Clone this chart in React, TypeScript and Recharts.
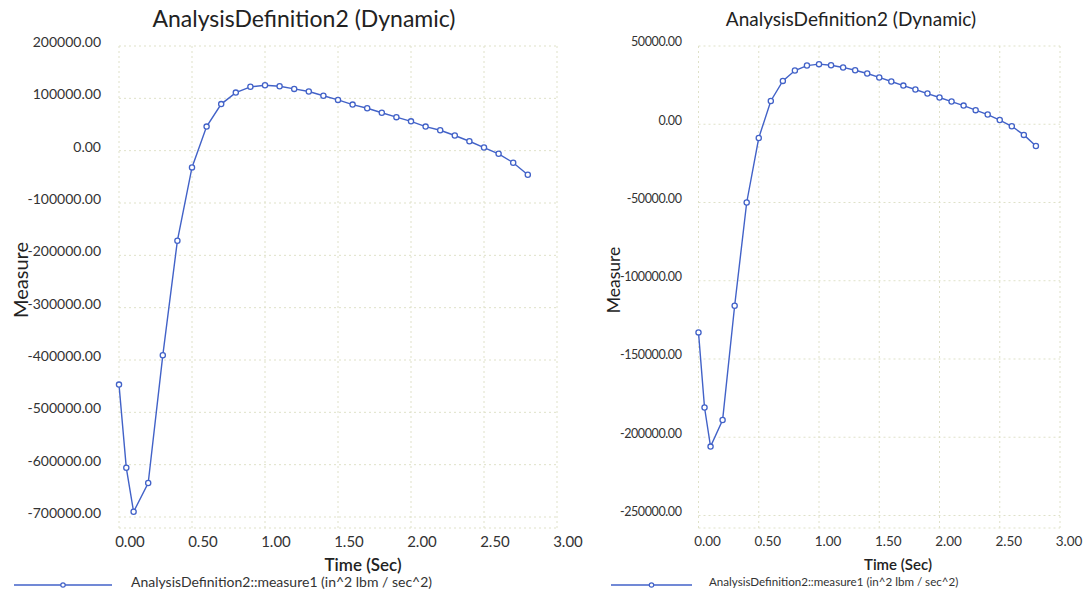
import { LineChart, Line, XAxis, YAxis, CartesianGrid } from "recharts";

const times = [
  0, 0.05, 0.1, 0.2, 0.3, 0.4, 0.5, 0.6, 0.7, 0.8, 0.9, 1.0, 1.1, 1.2, 1.3, 1.4,
  1.5, 1.6, 1.7, 1.8, 1.9, 2.0, 2.1, 2.2, 2.3, 2.4, 2.5, 2.6, 2.7, 2.8,
];

// left panel, in^2 lbm / sec^2
const leftMeasure = [
  -447000, -606000, -690000, -635000, -391000, -172000, -32000, 46000, 89000, 111000,
  122000, 125000, 123000, 118000, 113000, 105000, 97000, 88000, 81000, 72500,
  64000, 56000, 46000, 39000, 29000, 18000, 6000, -6000, -23000, -46000,
];

// right panel
const rightMeasure = [
  -133000, -181000, -206000, -189000, -116000, -50000, -8800, 14900, 27700, 34300,
  37500, 38400, 37700, 36300, 34500, 32400, 29900, 27300, 24700, 22200,
  19600, 17100, 14500, 11900, 9000, 6200, 2700, -1300, -6800, -13900,
];

const timeTicks = [0, 0.5, 1, 1.5, 2, 2.5, 3];
const leftTicks = [200000, 100000, 0, -100000, -200000, -300000, -400000, -500000, -600000, -700000];
const rightTicks = [50000, 0, -50000, -100000, -150000, -200000, -250000];

const title = "AnalysisDefinition2 (Dynamic)";
const seriesName = "AnalysisDefinition2::measure1 (in^2 lbm / sec^2)";

const FONT = "Lato, 'Open Sans', sans-serif";
const BLUE = "#4262c8";
const GRID = "#dfe1c8";
const TEXT = "#333";

const leftData = times.map((t, i) => ({ t, v: leftMeasure[i] }));
const rightData = times.map((t, i) => ({ t, v: rightMeasure[i] }));

function makeYTick(size: number, spacing: number) {
  return ({ x, y, payload }: any) => (
    <text x={x} y={y - 4} dy="0.35em" textAnchor="end" fontSize={size} letterSpacing={spacing} fill={TEXT} fontFamily={FONT}>
      {Number(payload.value).toFixed(2)}
    </text>
  );
}

function makeXTick(shift: number, size: number) {
  return ({ x, y, payload }: any) => (
    <text x={x + shift} y={y} dy="0.75em" textAnchor="middle" fontSize={size} fill={TEXT} fontFamily={FONT}>
      {Number(payload.value).toFixed(2)}
    </text>
  );
}

function Panel(props: {
  left: number;
  width: number;
  data: { t: number; v: number }[];
  domain: [number, number];
  ticks: number[];
  margin: { top: number; right: number; left: number; bottom: number };
  tickMargin: number;
  xShift: number;
  yFont: number;
  ySpacing: number;
  xFont: number;
}) {
  const { left, width, data, domain, ticks, margin, tickMargin, xShift, yFont, ySpacing, xFont } = props;
  return (
    <div style={{ position: "absolute", left, top: 0 }}>
      <LineChart width={width} height={595} data={data} margin={margin}>
        <CartesianGrid stroke={GRID} strokeDasharray="2 3" />
        <XAxis
          type="number"
          dataKey="t"
          domain={[0, 3]}
          ticks={timeTicks}
          axisLine={false}
          tickLine={false}
          height={30}
          tick={makeXTick(xShift, xFont)}
        />
        <YAxis
          type="number"
          domain={domain}
          ticks={ticks}
          width={110}
          axisLine={false}
          tickLine={false}
          tickMargin={tickMargin}
          tick={makeYTick(yFont, ySpacing)}
          allowDataOverflow
        />
        <Line
          type="linear"
          dataKey="v"
          stroke={BLUE}
          strokeWidth={1.4}
          dot={{ r: 2.6, fill: "#fff", stroke: BLUE, strokeWidth: 1.3 }}
          isAnimationActive={false}
        />
      </LineChart>
    </div>
  );
}

function Legend({ lineFrom, lineTo, textX, size }: { lineFrom: number; lineTo: number; textX: number; size: number }) {
  return (
    <>
      <svg style={{ position: "absolute", left: lineFrom - 2, top: 578 }} width={lineTo - lineFrom + 4} height={14}>
        <line x1={2} x2={lineTo - lineFrom + 2} y1={7} y2={7} stroke={BLUE} strokeWidth={1.4} />
        <circle cx={(lineTo - lineFrom) / 2 + 2} cy={7} r={2.2} fill="#fff" stroke={BLUE} strokeWidth={1.2} />
      </svg>
      <div
        style={{
          position: "absolute",
          left: textX,
          top: 582,
          transform: "translateY(-50%)",
          fontSize: size,
          lineHeight: 1,
          color: TEXT,
          fontFamily: FONT,
          whiteSpace: "nowrap",
        }}
      >
        {seriesName}
      </div>
    </>
  );
}

function Label({ x, y, text, size, weight, rotate }: { x: number; y: number; text: string; size: number; weight?: number; rotate?: boolean }) {
  return (
    <div
      style={{
        position: "absolute",
        left: x,
        top: y,
        transform: `translate(-50%, -50%)${rotate ? " rotate(-90deg)" : ""}`,
        fontSize: size,
        lineHeight: 1,
        fontWeight: weight ?? 400,
        color: "#222",
        fontFamily: FONT,
        whiteSpace: "nowrap",
      }}
    >
      {text}
    </div>
  );
}

export default function App() {
  return (
    <div style={{ position: "absolute", left: 0, top: 0, width: 1083, height: 595, background: "#fff", overflow: "hidden" }}>
      <Panel
        left={0}
        width={600}
        data={leftData}
        domain={[-721000, 200000]}
        ticks={leftTicks}
        margin={{ top: 46, right: 43, left: 9, bottom: 37 }}
        tickMargin={12}
        xShift={11}
        yFont={14}
        ySpacing={0}
        xFont={15}
      />
      <Panel
        left={560}
        width={523}
        data={rightData}
        domain={[-258000, 50000]}
        ticks={rightTicks}
        margin={{ top: 46, right: 23, left: 28.5, bottom: 37 }}
        tickMargin={11}
        xShift={9}
        yFont={12.5}
        ySpacing={-0.4}
        xFont={13.5}
      />
      <Label x={304} y={18} text={title} size={23} />
      <Label x={851} y={18} text={title} size={19} />
      <Label x={20} y={280} text="Measure" size={20} rotate />
      <Label x={614} y={280} text="Measure" size={17.5} rotate />
      <Label x={363} y={564} text="Time (Sec)" size={17} weight={600} />
      <Label x={898} y={564} text="Time (Sec)" size={15} weight={600} />
      <Legend lineFrom={14} lineTo={112} textX={131} size={14} />
      <Legend lineFrom={611} lineTo={692} textX={709} size={11.6} />
    </div>
  );
}
